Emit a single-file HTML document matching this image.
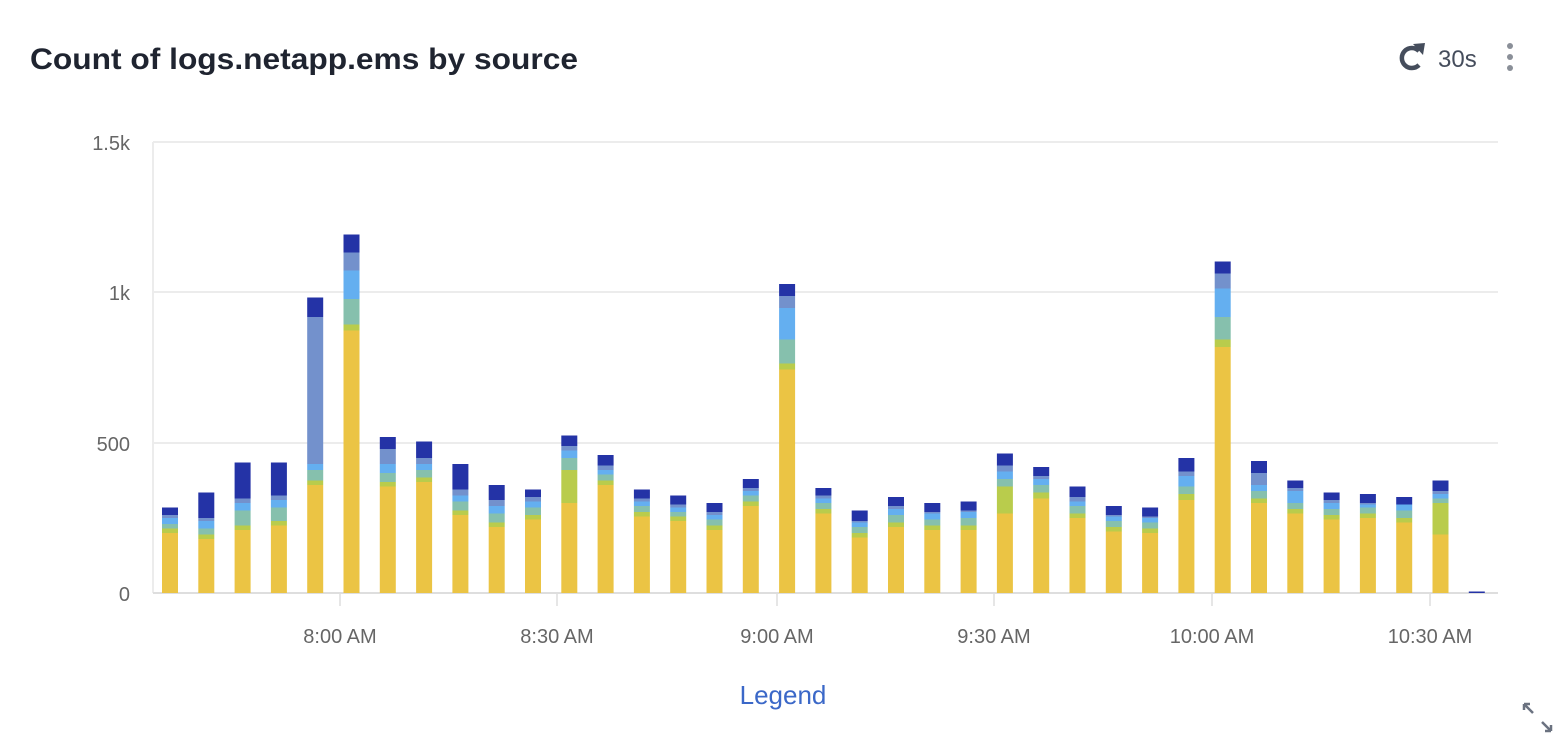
<!DOCTYPE html>
<html><head><meta charset="utf-8"><style>
html,body{margin:0;padding:0;background:#fff;width:1566px;height:742px;overflow:hidden;font-family:"Liberation Sans",sans-serif}
</style></head><body>
<svg id="c" width="1566" height="742" xmlns="http://www.w3.org/2000/svg" style="position:absolute;left:0;top:0">
<text x="30" y="69" font-family="Liberation Sans, sans-serif" font-weight="bold" font-size="30" fill="#1f2430" textLength="548" lengthAdjust="spacingAndGlyphs">Count of logs.netapp.ems by source</text>
<path d="M1419 51 A10 10 0 1 0 1419 65" fill="none" stroke="#454d5c" stroke-width="4.5"/>
<polygon points="1413,44 1425,43 1423,55" fill="#454d5c"/>
<text x="1438" y="67" font-size="24" fill="#454d5c">30s</text>
<circle cx="1510" cy="46" r="3" fill="#8a8f98"/><circle cx="1510" cy="57" r="3" fill="#8a8f98"/><circle cx="1510" cy="68" r="3" fill="#8a8f98"/>
<g stroke="#ececec" stroke-width="2"><line x1="153" y1="142" x2="1498" y2="142"/><line x1="153" y1="292" x2="1498" y2="292"/><line x1="153" y1="443" x2="1498" y2="443"/><line x1="153" y1="142" x2="153" y2="593"/></g>
<line x1="153" y1="593" x2="1498" y2="593" stroke="#dedede" stroke-width="2"/>
<g font-size="20" fill="#666" text-anchor="end"><text x="130" y="150">1.5k</text><text x="130" y="300">1k</text><text x="130" y="451">500</text><text x="130" y="601">0</text></g>
<g id="bars"></g>
<g id="xl" font-size="20" fill="#666" text-anchor="middle"></g>
<text x="783" y="704" font-size="26" fill="#3b68c8" text-anchor="middle">Legend</text>
<g stroke="#6b7280" stroke-width="2.5" fill="none"><path d="M1524 704 L1533 713 M1524 704 h6 M1524 704 v6 M1551 731 L1542 722 M1551 731 h-6 M1551 731 v-6"/></g>
</svg>
<script>
var cols=["#ebc444","#b9cc4c","#86c0ad","#64aff0","#7391cc","#2433a6"];
var d=[[200,15,15,20,10,25],[180,15,20,25,10,85],[210,15,50,25,15,120],[225,15,45,25,15,110],[360,15,35,20,490,65],[875,20,85,95,60,60],[355,15,30,30,50,40],[370,15,25,20,20,55],[260,15,30,20,20,85],[220,15,30,25,20,50],[245,15,25,20,15,25],[300,110,40,25,15,35],[360,15,20,15,15,35],[255,15,20,15,10,30],[240,15,15,15,10,30],[210,15,20,15,10,30],[290,15,20,15,10,30],[745,20,80,105,40,40],[265,15,20,15,10,25],[185,15,20,15,5,35],[220,15,25,20,10,30],[210,15,20,20,5,30],[210,15,25,20,5,30],[265,90,25,25,20,40],[315,20,25,20,10,30],[250,15,25,15,15,35],[205,15,20,15,5,30],[200,15,20,15,5,30],[310,20,25,35,15,45],[820,25,75,95,50,40],[300,15,25,20,40,40],[265,15,20,40,10,25],[245,15,20,20,10,25],[250,15,20,10,5,30],[235,15,25,20,0,25],[195,105,15,15,10,35],[0,0,0,0,0,5]];
var s="";
d.forEach(function(b,i){var cx=170+i*36.3,y=593;b.forEach(function(v,j){if(!v)return;var h=v*0.3;y-=h;s+='<rect x="'+(cx-8)+'" y="'+y+'" width="16" height="'+h+'" fill="'+cols[j]+'"/>';});});
document.getElementById("bars").innerHTML=s;
var xs=[[340,"8:00 AM"],[557,"8:30 AM"],[777,"9:00 AM"],[994,"9:30 AM"],[1212,"10:00 AM"],[1430,"10:30 AM"]],t="";
xs.forEach(function(a){t+='<line x1="'+a[0]+'" y1="594" x2="'+a[0]+'" y2="606" stroke="#ddd" stroke-width="1.5"/><text x="'+a[0]+'" y="643">'+a[1]+'</text>';});
document.getElementById("xl").innerHTML=t;
</script>
</body></html>
